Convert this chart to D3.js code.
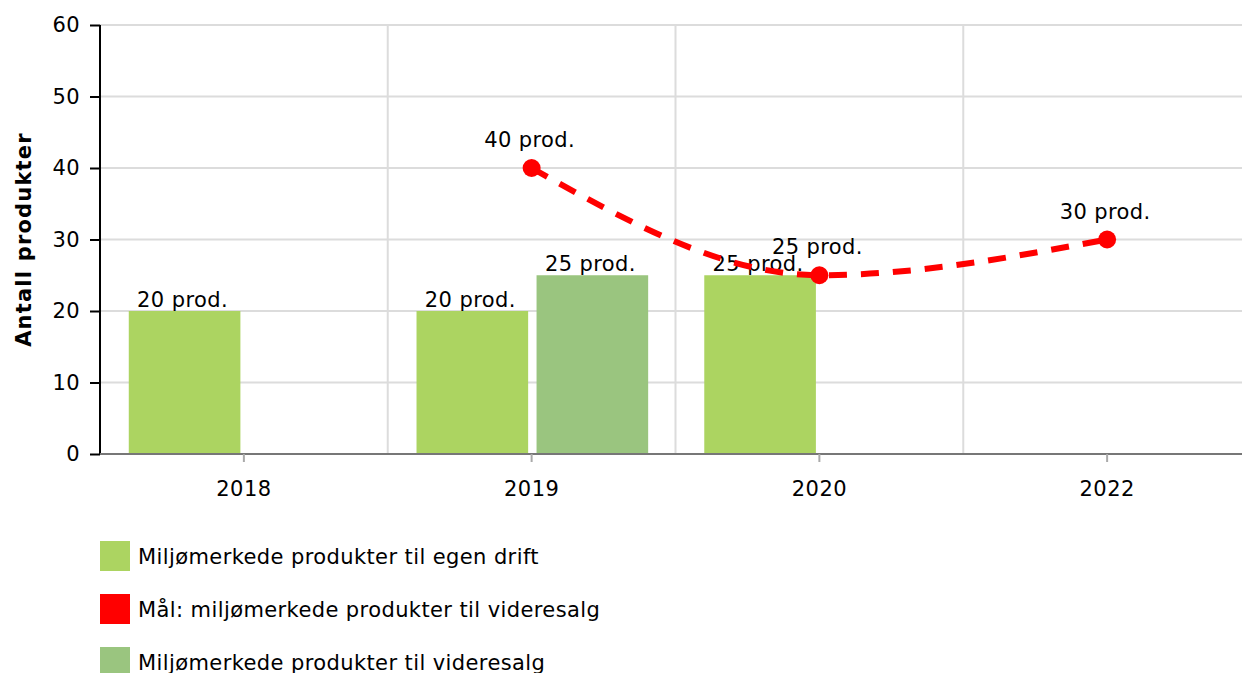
<!DOCTYPE html>
<html>
<head>
<meta charset="utf-8">
<script src="https://cdn.jsdelivr.net/npm/d3@7"></script>
<style>
  html, body { margin: 0; padding: 0; background: #fff; }
  svg { display: block; font-family: "DejaVu Sans", Verdana, sans-serif; }
  svg text { letter-spacing: 0.4px; }
</style>
</head>
<body>
<div id="chart"></div>
<script>
// data
const years = ['2018', '2019', '2020', '2022']
const seriesNames = [
  'Miljømerkede produkter til egen drift',
  'Mål: miljømerkede produkter til videresalg',
  'Miljømerkede produkter til videresalg'
]
const egenDrift = [20, 20, 25, null]
const videresalg = [null, 25, null, null]
const maalVideresalg = [null, 40, 25, 30]
const yTicks = [0, 10, 20, 30, 40, 50, 60]
const colors = ['#acd461', '#ff0000', '#9ac57f']

;(() => {
  const width = 1242
  const height = 673
  const margin = { left: 100, top: 25, bottom: 454 }
  const plotRight = 1251
  const fontSize = 21

  const svg = d3.select('#chart')
    .append('svg')
    .attr('width', width)
    .attr('height', height)

  const x0 = d3.scaleBand()
    .domain(years)
    .range([margin.left, plotRight])

  const bw = x0.bandwidth()
  const x1 = d3.scaleBand()
    .domain(['egen', 'salg'])
    .range([bw * 0.1, bw * 0.905])
    .paddingInner(0.07)

  const y = d3.scaleLinear()
    .domain([0, 60])
    .range([margin.bottom, margin.top])

  // grid
  svg.append('g')
    .selectAll('line')
    .data(yTicks)
    .join('line')
    .attr('x1', margin.left)
    .attr('x2', width)
    .attr('y1', d => y(d))
    .attr('y2', d => y(d))
    .attr('stroke', '#dcdcdc')
    .attr('stroke-width', 2)

  svg.append('g')
    .selectAll('line')
    .data(years.slice(1))
    .join('line')
    .attr('x1', d => x0(d))
    .attr('x2', d => x0(d))
    .attr('y1', margin.top)
    .attr('y2', margin.bottom)
    .attr('stroke', '#dcdcdc')
    .attr('stroke-width', 2)

  // bars
  const barData = []
  years.forEach((yr, i) => {
    if (egenDrift[i] != null) barData.push({ yr, key: 'egen', v: egenDrift[i], c: colors[0] })
    if (videresalg[i] != null) barData.push({ yr, key: 'salg', v: videresalg[i], c: colors[2] })
  })

  const bars = svg.append('g')
  bars.selectAll('rect')
    .data(barData)
    .join('rect')
    .attr('x', d => x0(d.yr) + x1(d.key))
    .attr('y', d => y(d.v))
    .attr('width', x1.bandwidth())
    .attr('height', d => y(0) - y(d.v))
    .attr('fill', d => d.c)

  bars.selectAll('text')
    .data(barData)
    .join('text')
    .attr('x', d => x0(d.yr) + x1(d.key) + x1.bandwidth() / 2 - 2)
    .attr('y', d => y(d.v) - 4)
    .attr('text-anchor', 'middle')
    .attr('font-size', fontSize)
    .attr('fill', '#000')
    .text(d => d.v + ' prod.')

  // axes
  const yAxis = svg.append('g')
    .attr('transform', `translate(${margin.left},0)`)
    .call(d3.axisLeft(y).tickValues(yTicks).tickSize(10).tickPadding(10))
  yAxis.select('.domain').attr('stroke', '#000').attr('stroke-width', 2)
    .attr('d', `M0,${margin.top}V${margin.bottom}`)
  yAxis.selectAll('.tick line').attr('stroke', '#000').attr('stroke-width', 2)
  yAxis.selectAll('.tick text').attr('font-size', fontSize).attr('fill', '#000')
    .attr('font-family', '"DejaVu Sans", Verdana, sans-serif')

  const xAxis = svg.append('g')
    .attr('transform', `translate(0,${margin.bottom})`)
    .call(d3.axisBottom(x0).tickSize(8).tickPadding(19))
  xAxis.select('.domain').attr('stroke', '#777').attr('stroke-width', 2)
    .attr('d', `M${margin.left},0H${width}`)
  xAxis.selectAll('.tick line').attr('stroke', '#aaa').attr('stroke-width', 2)
  xAxis.selectAll('.tick text').attr('font-size', fontSize).attr('fill', '#000')
    .attr('font-family', '"DejaVu Sans", Verdana, sans-serif')

  // y title
  svg.append('text')
    .attr('transform', `translate(31,${(margin.top + margin.bottom) / 2}) rotate(-90)`)
    .attr('text-anchor', 'middle')
    .attr('font-size', fontSize)
    .attr('font-weight', 'bold')
    .style('letter-spacing', '1.2px')
    .text('Antall produkter')

  // target line
  const lineData = years.map((yr, i) => ({ yr, v: maalVideresalg[i] })).filter(d => d.v != null)
  const cx = d => x0(d.yr) + bw / 2

  svg.append('path')
    .datum(lineData)
    .attr('d', d3.line().x(cx).y(d => y(d.v)).curve(d3.curveMonotoneX))
    .attr('fill', 'none')
    .attr('stroke', colors[1])
    .attr('stroke-width', 6)
    .attr('stroke-dasharray', '18,14')

  svg.append('g')
    .selectAll('circle')
    .data(lineData)
    .join('circle')
    .attr('cx', cx)
    .attr('cy', d => y(d.v))
    .attr('r', 9)
    .attr('fill', colors[1])

  svg.append('g')
    .selectAll('text')
    .data(lineData)
    .join('text')
    .attr('x', d => cx(d) - 2)
    .attr('y', d => y(d.v) - 21)
    .attr('text-anchor', 'middle')
    .attr('font-size', fontSize)
    .text(d => d.v + ' prod.')

  // legend
  const legend = svg.append('g')
    .selectAll('g')
    .data(seriesNames)
    .join('g')
    .attr('transform', (d, i) => `translate(100,${541 + i * 53})`)

  legend.append('rect')
    .attr('width', 30)
    .attr('height', 30)
    .attr('fill', (d, i) => colors[i])

  legend.append('text')
    .attr('x', 38)
    .attr('y', 23)
    .attr('font-size', fontSize)
    .text(d => d)
})()
</script>
</body>
</html>
